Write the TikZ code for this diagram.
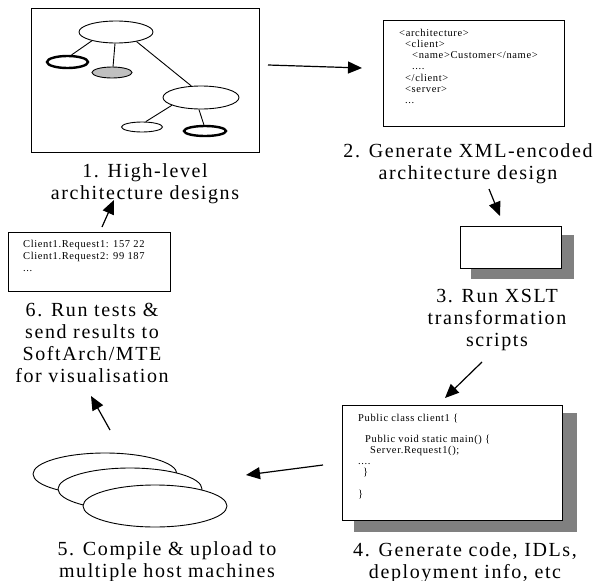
\documentclass[tikz,border=0pt]{standalone}
\usepackage{fontspec}
\setmainfont{Liberation Serif}
\newfontfamily\lblfam[LetterSpace=8]{Liberation Serif}
\newfontfamily\txtfam[LetterSpace=6]{Liberation Serif}
\usetikzlibrary{shapes.geometric,arrows.meta}

\definecolor{shadowgray}{RGB}{128,128,128}
\definecolor{nodegray}{RGB}{192,192,192}

% multi-line text whose reference point is the first baseline
\newcommand\lbllines[1]{\begin{tabular}[t]{@{}c@{}}#1\end{tabular}}
\newcommand\txtlines[1]{\begin{tabular}[t]{@{}l@{}}#1\end{tabular}}

\begin{document}
\begin{tikzpicture}[x=1pt,y=-1pt,
  box/.style={draw, line width=1.4pt, fill=white, anchor=north west, inner sep=0pt},
  shade/.style={fill=shadowgray, anchor=north west, inner sep=0pt},
  ell/.style={ellipse, draw, line width=0.9pt, fill=white, inner sep=0pt},
  boldell/.style={ell, line width=2.4pt},
  link/.style={line width=0.9pt},
  lbl/.style={font=\lblfam\fontsize{20}{22}\selectfont, inner sep=0pt, anchor=base},
  txt/.style={inner sep=0pt, anchor=base west},
  arr/.style={line width=1.2pt, -{Triangle[length=14pt,width=12pt]}}
]
\useasboundingbox (0,0) rectangle (603,581);

% ---------- 1. high-level design ----------
\node[box, minimum width=228pt, minimum height=144pt] (d1) at (31,8) {};
\node[ell, minimum width=74pt, minimum height=22pt] (top) at (116,32) {};
\node[boldell, minimum width=41pt, minimum height=12pt] (leftb) at (67.5,62) {};
\node[ell, fill=nodegray, minimum width=40pt, minimum height=11pt] (gray) at (112,72.5) {};
\node[ell, minimum width=76pt, minimum height=23pt] (rbig) at (201,97.5) {};
\node[ell, minimum width=41pt, minimum height=10pt] (smalll) at (142,127) {};
\node[boldell, minimum width=42pt, minimum height=10pt] (rightb) at (205,131) {};
\draw[link] (top.200) -- (leftb.60);
\draw[link] (top.-95) -- (gray.80);
\draw[link] (top.-25) -- (rbig.130);
\draw[link] (rbig.-165) -- (smalll.55);
\draw[link] (rbig.-100) -- (rightb.100);
\node[lbl] (l1) at (145,177) {\lbllines{1. High-level\\architecture designs}};

% ---------- 2. XML document ----------
\node[box, minimum width=181pt, minimum height=106pt] (d2) at (383,20) {};
\node[txt, font=\txtfam\fontsize{10.5}{11.3}\selectfont] (xml) at (399,36)
  {\txtlines{<architecture>\\
   \hspace*{6pt}<client>\\
   \hspace*{13pt}<name>Customer</name>\\
   \hspace*{13pt}....\\
   \hspace*{6pt}</client>\\
   \hspace*{6pt}<server>\\
   \hspace*{6pt}...}};
\node[lbl] (l2) at (468,157) {\lbllines{2. Generate XML-encoded\\architecture design}};

% ---------- 3. XSLT scripts ----------
\node[shade, minimum width=103pt, minimum height=44pt] (s3) at (471,235) {};
\node[box, minimum width=101pt, minimum height=42pt] (d3) at (460,226) {};
\node[lbl] (l3) at (497,302) {\lbllines{3. Run XSLT\\transformation\\scripts}};

% ---------- 4. generated code ----------
\node[shade, minimum width=223pt, minimum height=119pt] (s4) at (354,413) {};
\node[box, minimum width=220pt, minimum height=115pt] (d4) at (342,405) {};
\node[txt, font=\txtfam\fontsize{10.5}{10.9}\selectfont] (code) at (358,421)
  {\txtlines{Public class client1 \{\\
   \\
   \hspace*{7pt}Public void static main() \{\\
   \hspace*{12pt}Server.Request1();\\
   ....\\
   \hspace*{5pt}\}\\
   \\
   \}}};
\node[lbl] (l4) at (465,556) {\lbllines{4. Generate code, IDLs,\\deployment info, etc}};

% ---------- 5. host machines ----------
\node[ell, minimum width=144pt, minimum height=42pt] (h1) at (105,474) {};
\node[ell, minimum width=144pt, minimum height=42pt] (h2) at (130,489) {};
\node[ell, minimum width=144pt, minimum height=42pt] (h3) at (155,506) {};
\node[lbl] (l5) at (167,555) {\lbllines{5. Compile \& upload to\\multiple host machines}};

% ---------- 6. test results ----------
\node[box, minimum width=162pt, minimum height=59pt] (d6) at (8,232) {};
\node[txt, font=\txtfam\fontsize{10.5}{12}\selectfont] (res) at (23,247)
  {\txtlines{Client1.Request1: 157 22\\Client1.Request2: 99 187\\...}};
\node[lbl] (l6) at (92,316) {\lbllines{6. Run tests \&\\send results to\\SoftArch/MTE\\for visualisation}};

% ---------- process arrows ----------
\coordinate (out1) at (268,65);   \coordinate (in2) at (362,68);
\coordinate (out2) at (489,189);  \coordinate (in3) at (500,216);
\coordinate (out3) at (482,362);  \coordinate (in4) at (445,398);
\coordinate (out4) at (323,465);  \coordinate (in5) at (246,475);
\coordinate (out5) at (110,430);  \coordinate (in6) at (91,396);
\coordinate (out6) at (102,227);  \coordinate (in1) at (114,200);
\draw[arr] (out1) -- (in2);
\draw[arr] (out2) -- (in3);
\draw[arr] (out3) -- (in4);
\draw[arr] (out4) -- (in5);
\draw[arr] (out5) -- (in6);
\draw[arr] (out6) -- (in1);
\end{tikzpicture}
\end{document}
